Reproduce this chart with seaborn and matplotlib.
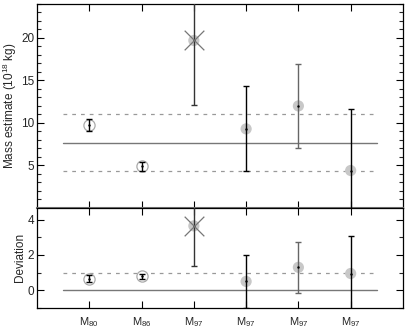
import numpy as np
import pandas as pd
import matplotlib
matplotlib.use('Agg')
import matplotlib.pyplot as plt
from matplotlib.ticker import MultipleLocator
import seaborn as sns

# data
labels = ['$\\mathrm{M}_{80}$', '$\\mathrm{M}_{86}$', '$\\mathrm{M}_{97}$',
          '$\\mathrm{M}_{97}$', '$\\mathrm{M}_{97}$', '$\\mathrm{M}_{97}$']
xpos = [1, 2, 3, 4, 5, 6]
mass = [9.8, 4.9, 19.7, 9.3, 12.0, 4.4]
mass_err = [0.7, 0.5, 7.6, 5.0, 4.9, 7.2]
dev = [0.65, 0.8, 3.65, 0.5, 1.3, 0.95]
dev_err = [0.2, 0.15, 2.3, 1.5, 1.45, 2.15]
filled = [False, False, True, True, True, True]
outlier = [False, False, True, False, False, False]
bar_colors = ['black', 'black', '#333333', 'black', '#666666', 'black']

mass_mean = 7.6
mass_band = [4.3, 11.0]
dev_mean = 0.0
dev_band = 1.0

sns.set_style('ticks')
plt.rcParams['font.family'] = ['Liberation Sans', 'DejaVu Sans']
plt.rcParams['mathtext.fontset'] = 'custom'
plt.rcParams['mathtext.rm'] = 'Liberation Sans'

df = pd.DataFrame({'x': xpos, 'mass': mass, 'mass_err': mass_err,
                   'dev': dev, 'dev_err': dev_err,
                   'filled': filled, 'outlier': outlier})

fig = plt.figure(figsize=(4.07, 3.30), dpi=100)
ax1 = fig.add_axes([0.091, 0.370, 0.899, 0.618])
ax2 = fig.add_axes([0.091, 0.067, 0.899, 0.303])


def draw_panel(ax, col, ecol, mean, band):
    # reference lines
    ax.plot([0.5, 6.5], [mean, mean], color='#777777', lw=1.0, zorder=1)
    if np.ndim(band) == 0:
        band = [band]
    for b in band:
        ax.plot([0.5, 6.5], [b, b], color='#999999', lw=0.9, ls=(0, (3, 4)), zorder=1)
    # markers
    sns.scatterplot(data=df[df['filled']], x='x', y=col, s=65, color='#c8c8c8',
                    edgecolor='none', ax=ax, zorder=2, legend=False)
    sns.scatterplot(data=df[~df['filled']], x='x', y=col, s=65, facecolor='white',
                    edgecolor='#aaaaaa', linewidth=0.9, ax=ax, zorder=2, legend=False)
    sns.scatterplot(data=df[df['outlier']], x='x', y=col, s=200, marker='x',
                    color='#777777', linewidth=0.9, ax=ax, zorder=4, legend=False)
    for i in range(len(xpos)):
        ax.errorbar(xpos[i], df[col][i], yerr=df[ecol][i], fmt='none',
                    ecolor=bar_colors[i], elinewidth=1.0, capsize=2, capthick=1.0,
                    zorder=3)
        ax.plot(xpos[i], df[col][i], marker='.', ms=1.5, color='black', zorder=3)
    ax.set_xlim(0, 7)
    ax.set_xticks(xpos)
    ax.set_xlabel('')
    ax.tick_params(direction='in', top=True, right=True, length=5, width=0.8,
                   labelsize=8.5, color='black', pad=2)
    ax.tick_params(which='minor', direction='in', right=True, left=True, length=3, width=0.8)
    for s in ax.spines.values():
        s.set_linewidth(0.9)
        s.set_color('black')


draw_panel(ax1, 'mass', 'mass_err', mass_mean, mass_band)
ax1.set_ylim(0, 24)
ax1.yaxis.set_minor_locator(MultipleLocator(1))
ax1.set_yticks([5, 10, 15, 20])
ax1.set_xticklabels([])
ax1.set_ylabel('Mass estimate (10$^{18}$ kg)', fontsize=8.5)
ax1.yaxis.set_label_coords(-0.048, 0.5)
ax1.spines['bottom'].set_color('#777777')
ax1.spines['bottom'].set_linewidth(1.5)

draw_panel(ax2, 'dev', 'dev_err', dev_mean, dev_band)
ax2.set_ylim(-1, 4.67)
ax2.set_yticks([0, 2, 4])
ax2.yaxis.set_minor_locator(MultipleLocator(1))
ax2.set_xticklabels(labels, fontsize=8)
ax2.tick_params(axis='x', pad=5)
ax2.set_ylabel('Deviation', fontsize=8.5)
ax2.yaxis.set_label_coords(-0.03, 0.5)

fig.savefig('out.png', dpi=100)
